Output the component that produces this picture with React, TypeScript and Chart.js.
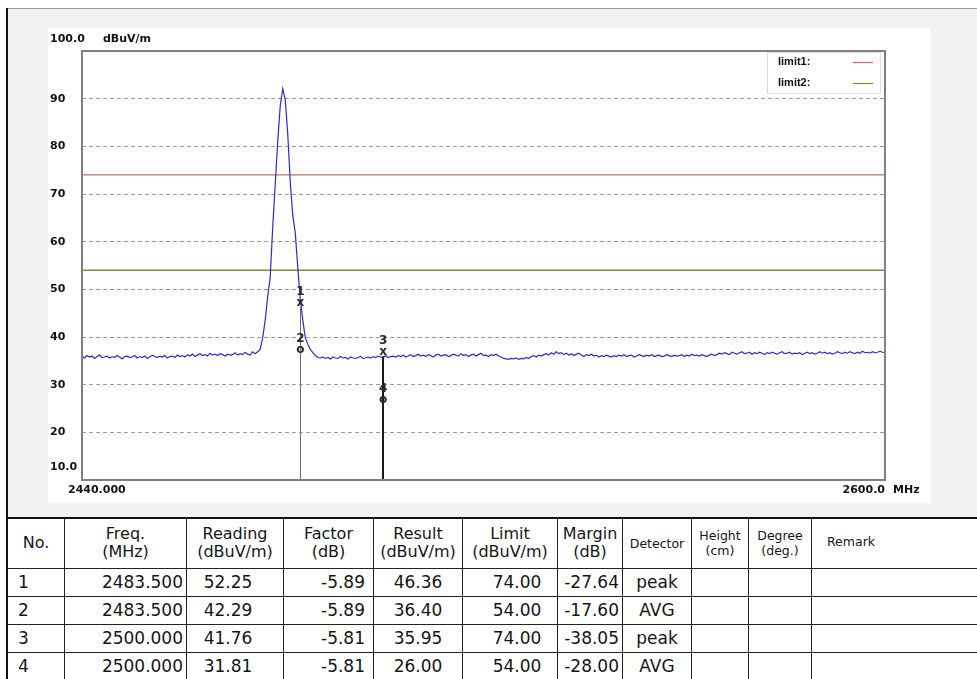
import React, { useEffect, useRef } from 'react';
import { Chart, registerables } from 'chart.js';

Chart.register(...registerables);

const FONT = '"DejaVu Sans", "Liberation Sans", Arial, sans-serif';

// ---- axes ----
const xMinMHz = 2440;
const xMaxMHz = 2600;
const xStartLabel = '2440.000';
const xEndLabel = '2600.0';
const xUnit = 'MHz';
const yMin = 10;
const yMax = 100;
const yStep = 10;
const yTopLabel = '100.0';
const yBottomLabel = '10.0';
const yUnit = 'dBuV/m';

// ---- spectrum trace (dBuV/m), 0.5 MHz sweep steps from 2440 MHz ----
const traceStartMHz = 2440;
const traceStepMHz = 0.5;
// 2440.0 .. 2474.5
const traceLow = [
  35.9, 35.6, 36.1, 35.8, 36.0, 35.5, 35.9, 36.2, 35.7, 35.8,
  36.0, 35.6, 35.9, 35.7, 36.1, 35.8, 35.4, 35.9, 36.0, 35.7,
  35.8, 36.1, 35.6, 35.9, 35.7, 36.0, 35.5, 35.8, 36.2, 35.9,
  35.7, 36.0, 35.8, 36.1, 35.6, 35.9, 36.0, 35.7, 36.2, 35.9,
  36.1, 35.8, 36.3, 36.0, 36.4, 35.9, 36.2, 36.5, 36.1, 36.3,
  36.0, 36.6, 36.2, 36.4, 36.1, 36.5, 36.3, 36.0, 36.4, 36.2,
  36.3, 36.7, 36.2, 36.5, 36.3, 36.8, 36.4, 36.2, 36.9, 36.5,
];
// 2475.0 .. 2487.0
const tracePeak = [
  36.9, 37.4, 39.8, 43.5, 48.5, 52.5, 63.0, 72.0, 81.0, 88.5,
  92.1, 89.8, 82.5, 72.5, 65.5, 61.8, 54.5, 47.8, 43.5, 39.8,
  38.5, 37.4, 36.7, 36.1, 35.7,
];
// 2487.5 .. 2600.0
const traceHigh = [
  35.6, 35.8, 35.5, 35.7, 35.4, 35.8, 35.6, 35.5, 35.9, 35.6,
  35.7, 35.4, 35.8, 35.6, 35.5, 35.7, 35.9, 35.5, 35.6, 35.8,
  35.6, 35.9, 35.7, 36.0, 35.8, 35.6, 36.1, 35.7, 35.9, 36.0,
  35.8, 36.1, 35.9, 36.2, 35.8, 36.0, 36.3, 35.9, 36.1, 36.4,
  36.0, 36.2, 35.9, 36.3, 36.1, 35.8, 36.2, 36.4, 36.0, 36.2,
  36.3, 35.9, 36.1, 36.4, 36.2, 36.0, 36.5, 36.1, 36.3, 35.9,
  36.2, 36.4, 36.0, 36.3, 36.6, 36.1, 36.2, 35.9, 36.3, 36.1,
  36.4, 36.0, 35.8, 35.5, 35.4, 35.3, 35.5, 35.4, 35.6, 35.3,
  35.5, 35.4, 35.7, 35.5, 35.9, 36.1, 35.8, 36.2, 36.0, 36.3,
  36.5, 36.2, 36.7, 36.4, 36.9, 36.5, 36.7, 36.3, 36.6, 36.2,
  36.5, 36.1, 36.4, 36.6, 36.2, 35.9, 36.3, 36.1, 36.4, 36.0,
  36.2, 35.8, 36.1, 35.9, 36.2, 36.0, 35.8, 36.1, 35.9, 36.2,
  36.0, 36.3, 35.9, 36.1, 36.2, 35.8, 36.0, 36.3, 36.1, 35.9,
  36.2, 36.0, 36.3, 35.9, 36.1, 36.2, 35.9, 36.0, 36.3, 36.1,
  35.9, 36.2, 36.0, 36.1, 36.3, 35.9, 36.2, 36.0, 36.4, 36.1,
  36.2, 36.0, 36.3, 36.1, 35.9, 36.2, 36.4, 36.1, 36.3, 36.6,
  36.4, 36.7, 36.5, 36.3, 36.8, 36.6, 36.4, 36.7, 36.9, 36.5,
  36.6, 36.8, 36.4, 36.7, 36.5, 36.8, 36.6, 36.3, 36.7, 36.5,
  36.8, 36.6, 36.4, 36.7, 36.9, 36.5, 36.6, 36.8, 36.4, 36.6,
  36.5, 36.7, 36.3, 36.6, 36.8, 36.5, 36.7, 36.4, 36.6, 36.9,
  36.6, 36.8, 36.5, 36.7, 36.4, 36.6, 36.9, 36.7, 36.5, 36.8,
  36.6, 36.9, 36.7, 36.5, 36.8, 36.6, 37.0, 36.7, 36.8, 36.6,
  36.9, 36.7, 36.8, 37.0, 36.8, 36.7,
];

// ---- limits ----
const limitNames = ['limit1:', 'limit2:'];
const limitLevels = [74, 54];
const limitColors = ['#e06262', '#8a8a2c'];

// ---- markers / table ----
const markerNo = [1, 2, 3, 4];
const markerFreq = [2483.5, 2483.5, 2500.0, 2500.0];
const markerReading = [52.25, 42.29, 41.76, 31.81];
const markerFactor = [-5.89, -5.89, -5.81, -5.81];
const markerResult = [46.36, 36.40, 35.95, 26.00];
const markerLimit = [74.0, 54.0, 74.0, 54.0];
const markerMargin = [-27.64, -17.60, -38.05, -28.00];
const markerDetector = ['peak', 'AVG', 'peak', 'AVG'];

const tableHeaders = [
  ['No.'], ['Freq.', '(MHz)'], ['Reading', '(dBuV/m)'], ['Factor', '(dB)'],
  ['Result', '(dBuV/m)'], ['Limit', '(dBuV/m)'], ['Margin', '(dB)'], ['Detector'],
  ['Height', '(cm)'], ['Degree', '(deg.)'], ['Remark'],
];

const TRACE_COLOR = '#2b2bd4';

const overlayPlugin = {
  id: 'overlay',
  afterDatasetsDraw(chart: any) {
    const { ctx, chartArea: a, scales } = chart;
    const xs = scales.x;
    const ys = scales.y;
    ctx.save();
    // marker vertical lines
    const freqs = Array.from(new Set(markerFreq));
    freqs.forEach((f, g) => {
      const idx = markerFreq.map((mf, i) => (mf === f ? i : -1)).filter((i) => i >= 0);
      const top = Math.min(...idx.map((i) => ys.getPixelForValue(markerResult[i])));
      const px = Math.round(xs.getPixelForValue(f)) + (g === 0 ? 0.5 : 0);
      ctx.beginPath();
      ctx.strokeStyle = g === 0 ? '#6c6c6c' : '#1c1c1c';
      ctx.lineWidth = g === 0 ? 1 : 2;
      ctx.moveTo(px, top);
      ctx.lineTo(px, a.bottom);
      ctx.stroke();
    });
    // marker symbols and numbers
    markerNo.forEach((n, i) => {
      const px = xs.getPixelForValue(markerFreq[i]);
      const py = ys.getPixelForValue(markerResult[i]);
      ctx.fillStyle = '#2a2a2a';
      ctx.textAlign = 'center';
      ctx.textBaseline = 'alphabetic';
      ctx.font = `bold 12px ${FONT}`;
      ctx.fillText(markerDetector[i] === 'peak' ? 'x' : 'o', px, py - 1);
      ctx.fillText(String(n), px, py - 12);
    });
    ctx.restore();
  },
  afterDraw(chart: any) {
    const { ctx, chartArea: a, scales } = chart;
    const ys = scales.y;
    ctx.save();
    // plot frame
    ctx.strokeStyle = '#808080';
    ctx.lineWidth = 2;
    ctx.strokeRect(a.left, a.top, a.right - a.left, a.bottom - a.top);

    // legend box
    const bx = a.right - 118;
    const by = a.top + 1;
    const bw = 113;
    const bh = 41;
    ctx.fillStyle = '#ffffff';
    ctx.fillRect(bx, by, bw, bh);
    ctx.strokeStyle = '#dedede';
    ctx.lineWidth = 1;
    ctx.strokeRect(bx + 0.5, by + 0.5, bw, bh);
    limitNames.forEach((name, i) => {
      const ly = by + 10 + i * 21;
      ctx.fillStyle = '#111';
      ctx.font = 'bold 11px "Liberation Sans", Arial, sans-serif';
      ctx.textAlign = 'left';
      ctx.textBaseline = 'middle';
      ctx.fillText(name, bx + 11, ly);
      ctx.strokeStyle = limitColors[i];
      ctx.lineWidth = 1.2;
      ctx.beginPath();
      ctx.moveTo(bx + 86, ly + 0.5);
      ctx.lineTo(bx + 106, ly + 0.5);
      ctx.stroke();
    });

    // axis end labels
    ctx.fillStyle = '#111';
    ctx.font = `bold 11px ${FONT}`;
    ctx.textBaseline = 'middle';
    ctx.textAlign = 'left';
    const yTop = ys.getPixelForValue(yMax);
    const yBot = ys.getPixelForValue(yMin);
    ctx.fillText(yTopLabel, 2, yTop - 12);
    ctx.fillText(yUnit, 55, yTop - 12);
    ctx.fillText(yBottomLabel, 2, yBot - 13);
    ctx.fillText(xStartLabel, a.left - 14, a.bottom + 10);
    ctx.textAlign = 'right';
    ctx.fillText(xEndLabel, a.right, a.bottom + 10);
    ctx.textAlign = 'left';
    ctx.fillText(xUnit, a.right + 8, a.bottom + 10);
    ctx.restore();
  },
};

const colWidths = [57, 122, 97, 90, 89, 95, 65, 69, 57, 63, 200];
const cellBorder = '1px solid #222';

function fmt(v: number, d: number) {
  return v.toFixed(d);
}

export default function App() {
  const ref = useRef<HTMLCanvasElement>(null);

  useEffect(() => {
    const canvas = ref.current;
    if (!canvas) return;
    const traceLevels = [...traceLow, ...tracePeak, ...traceHigh];
    const traceData = traceLevels.map((v, i) => ({ x: traceStartMHz + i * traceStepMHz, y: v }));
    const chart = new Chart(canvas, {
      type: 'line',
      data: {
        datasets: [
          {
            label: 'trace',
            data: traceData,
            borderColor: TRACE_COLOR,
            borderWidth: 1.2,
            pointRadius: 0,
            tension: 0,
          },
          ...limitLevels.map((lv, i) => ({
            label: limitNames[i],
            data: [
              { x: xMinMHz, y: lv },
              { x: xMaxMHz, y: lv },
            ],
            borderColor: limitColors[i],
            borderWidth: 1.3,
            pointRadius: 0,
            tension: 0,
          })),
        ],
      },
      options: {
        animation: false,
        responsive: false,
        events: [],
        layout: { padding: { left: 2, top: 23, right: 46, bottom: 23 } },
        plugins: { legend: { display: false }, tooltip: { enabled: false } },
        scales: {
          x: { type: 'linear', min: xMinMHz, max: xMaxMHz, display: false },
          y: {
            type: 'linear',
            min: yMin,
            max: yMax,
            ticks: {
              stepSize: yStep,
              crossAlign: 'far',
              color: '#111',
              font: { family: FONT, size: 11, weight: 'bold' },
              callback: (v: any) => (v === yMin || v === yMax ? '' : String(v)),
            },
            grid: {
              drawTicks: false,
              lineWidth: 1,
              color: (c: any) =>
                c.tick && (c.tick.value === yMin || c.tick.value === yMax) ? 'rgba(0,0,0,0)' : '#9c9c9c',
            },
            border: { display: false, dash: [4, 3] },
            afterFit: (s: any) => {
              s.width = 32;
            },
          },
        },
      } as any,
      plugins: [overlayPlugin],
    });
    return () => chart.destroy();
  }, []);

  const thBase: React.CSSProperties = {
    border: cellBorder,
    padding: 0,
    fontWeight: 'normal',
    textAlign: 'center',
    verticalAlign: 'middle',
  };

  const dataAlign: Array<React.CSSProperties> = [
    { textAlign: 'left', paddingLeft: 10 },
    { textAlign: 'right', paddingRight: 3 },
    { textAlign: 'center', paddingRight: 14 },
    { textAlign: 'right', paddingRight: 8 },
    { textAlign: 'center' },
    { textAlign: 'center', paddingLeft: 14 },
    { textAlign: 'right', paddingRight: 3 },
    { textAlign: 'center' },
    { textAlign: 'center' },
    { textAlign: 'center' },
    { textAlign: 'left' },
  ];

  const rows = markerNo.map((n, i) => [
    String(n),
    fmt(markerFreq[i], 3),
    fmt(markerReading[i], 2),
    fmt(markerFactor[i], 2),
    fmt(markerResult[i], 2),
    fmt(markerLimit[i], 2),
    fmt(markerMargin[i], 2),
    markerDetector[i],
    '',
    '',
    '',
  ]);

  const totalW = colWidths.reduce((s, w) => s + w, 0);

  return (
    <div
      style={{
        position: 'absolute',
        left: 0,
        top: 0,
        width: 977,
        height: 679,
        overflow: 'hidden',
        background: '#ffffff',
        fontFamily: FONT,
      }}
    >
      <div style={{ position: 'absolute', left: 8, top: 9, width: 969, height: 508, background: '#f2f2f2' }} />
      <div style={{ position: 'absolute', left: 7, top: 8, width: 970, height: 1, background: '#9a9a9a' }} />
      <div style={{ position: 'absolute', left: 48, top: 28, width: 883, height: 475, background: '#ffffff' }}>
        <canvas ref={ref} width={883} height={475} style={{ display: 'block', width: 883, height: 475 }} />
      </div>
      <table
        style={{
          position: 'absolute',
          left: 7,
          top: 517,
          width: totalW,
          borderCollapse: 'collapse',
          tableLayout: 'fixed',
          borderTop: '2px solid #111',
          color: '#151515',
          background: '#ffffff',
        }}
      >
        <colgroup>
          {colWidths.map((w, i) => (
            <col key={i} style={{ width: w }} />
          ))}
        </colgroup>
        <thead>
          <tr style={{ height: 50 }}>
            {tableHeaders.map((h, i) => {
              const small = i >= 7;
              return (
                <th
                  key={i}
                  style={{
                    ...thBase,
                    borderTop: '2px solid #111',
                    fontSize: small ? 12.5 : 16,
                    lineHeight: small ? '15px' : '18px',
                    textAlign: i === 10 ? 'left' : 'center',
                    paddingLeft: i === 10 ? 15 : 0,
                    paddingBottom: i === 10 ? 4 : 0,
                  }}
                >
                  {h.map((line, k) => (
                    <div key={k}>{line}</div>
                  ))}
                </th>
              );
            })}
          </tr>
        </thead>
        <tbody>
          {rows.map((r, ri) => (
            <tr key={ri} style={{ height: 28 }}>
              {r.map((c, ci) => (
                <td
                  key={ci}
                  style={{
                    border: cellBorder,
                    padding: 0,
                    fontSize: 17,
                    lineHeight: '20px',
                    verticalAlign: 'middle',
                    whiteSpace: 'nowrap',
                    ...dataAlign[ci],
                  }}
                >
                  {c}
                </td>
              ))}
            </tr>
          ))}
        </tbody>
      </table>
      <div style={{ position: 'absolute', left: 6, top: 8, width: 2, height: 671, background: '#111' }} />
    </div>
  );
}
